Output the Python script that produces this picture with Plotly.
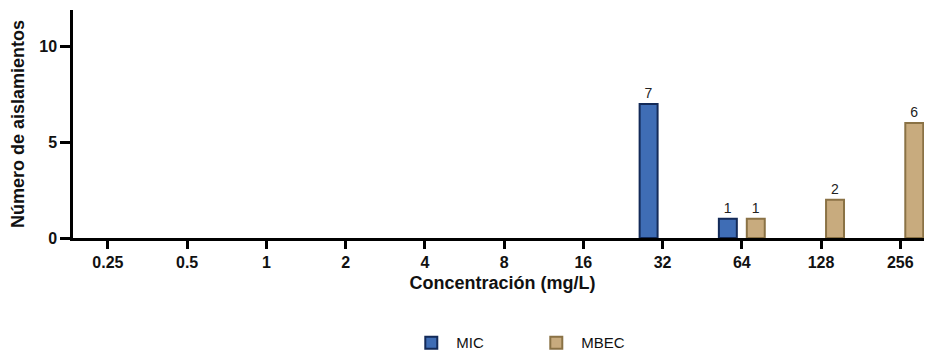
import plotly.graph_objects as go

categories = ["0.25", "0.5", "1", "2", "4", "8", "16", "32", "64", "128", "256"]
mic_values = [0, 0, 0, 0, 0, 0, 0, 7, 1, 0, 0]
mbec_values = [0, 0, 0, 0, 0, 0, 0, 0, 1, 2, 6]
series_names = ["MIC", "MBEC"]
y_ticks = [0, 5, 10]

FONT = "Liberation Sans, Arial, Helvetica, sans-serif"

def shown(vals):
    return [v if v else None for v in vals]

def labels(vals):
    return [str(v) if v else "" for v in vals]

fig = go.Figure()
fig.add_trace(go.Bar(
    x=categories, y=shown(mic_values), name=series_names[0],
    text=labels(mic_values), textposition="outside",
    textfont=dict(size=14, color="#222222", family=FONT),
    marker=dict(color="#3f6db5", line=dict(color="#132a58", width=2)),
    cliponaxis=False,
))
fig.add_trace(go.Bar(
    x=categories, y=shown(mbec_values), name=series_names[1],
    text=labels(mbec_values), textposition="outside",
    textfont=dict(size=14, color="#222222", family=FONT),
    marker=dict(color="#c8ab7e", line=dict(color="#8a7245", width=2)),
    cliponaxis=False,
))

# page has an 8px body margin; figure sized to fill the rest of the window
fig.update_layout(
    width=924, height=348,
    margin=dict(l=65, r=0, t=2, b=118, autoexpand=False),
    paper_bgcolor="white", plot_bgcolor="white",
    barmode="group", bargap=0.295, bargroupgap=0.357,
    font=dict(family=FONT, color="#111111"),
    showlegend=True,
    legend=dict(orientation="h", x=0.388, xanchor="left", y=-0.46, yanchor="middle",
                font=dict(size=15, family=FONT, color="#111111"),
                entrywidth=70, entrywidthmode="pixels",
                itemwidth=40, tracegroupgap=0),
    xaxis=dict(
        type="category", categoryorder="array", categoryarray=categories,
        range=[-0.44, 10.4], automargin=False,
        showline=True, linecolor="black", linewidth=2.5,
        ticks="outside", ticklen=8, tickwidth=2.5, tickcolor="black",
        tickfont=dict(size=16, family=FONT, color="#111111", weight="bold"),
        title=dict(text="<b>Concentración (mg/L)</b>", font=dict(size=18, family=FONT, color="#111111"), standoff=7),
        showgrid=False, zeroline=False,
    ),
    yaxis=dict(
        range=[0, 11.9], tickvals=y_ticks, automargin=False,
        showline=True, linecolor="black", linewidth=2.5,
        ticks="outside", ticklen=10, tickwidth=2.5, tickcolor="black",
        tickfont=dict(size=16, family=FONT, color="#111111", weight="bold"),
        title=dict(text="<b>Número de aislamientos</b>", font=dict(size=18, family=FONT, color="#111111"), standoff=12),
        showgrid=False, zeroline=False,
    ),
)

fig.write_html("out.html")
